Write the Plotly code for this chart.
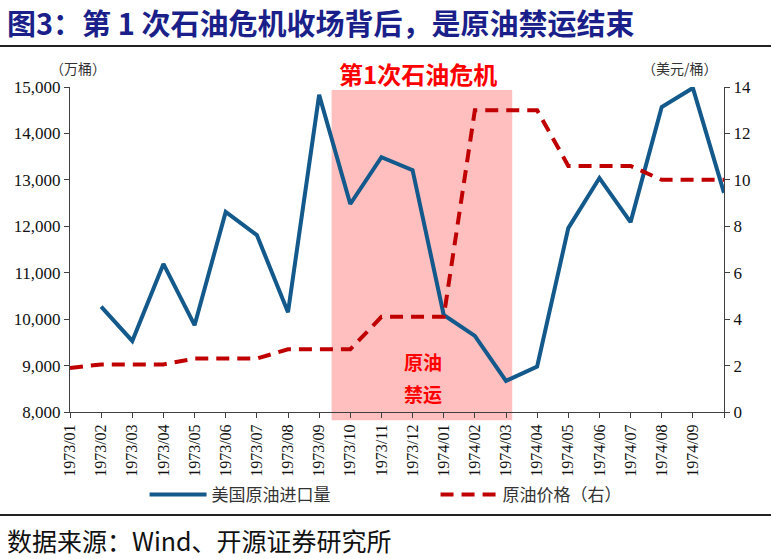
import plotly.graph_objects as go

# ---------------- data ----------------
months = ["1973/01", "1973/02", "1973/03", "1973/04", "1973/05", "1973/06", "1973/07",
          "1973/08", "1973/09", "1973/10", "1973/11", "1973/12", "1974/01", "1974/02",
          "1974/03", "1974/04", "1974/05", "1974/06", "1974/07", "1974/08", "1974/09",
          "1974/10"]
tick_labels = months[:-1] + [""]

us_imports = [None, 10270, 9530, 11190, 9870, 12310, 11810, 10150, 14830, 12480,
              13490, 13210, 10090, 9640, 8670, 8980, 11960, 13040, 12090, 14570,
              14980, 12720]          # 万桶
oil_price = [1.9, 2.05, 2.05, 2.05, 2.3, 2.3, 2.3, 2.7, 2.7, 2.7, 4.1, 4.1, 4.1,
             13.0, 13.0, 13.0, 10.6, 10.6, 10.6, 10.0, 10.0, 10.0]   # 美元/桶

shade_start, shade_end = 8.4, 14.2    # 禁运期 (category index)

xs = list(range(len(months)))

BLUE = "#13598B"
RED = "#C00000"
SERIF = "Liberation Serif, Times New Roman, serif"
CJK = "Noto Sans CJK SC, sans-serif"

fig = go.Figure()
fig.add_trace(go.Scatter(x=xs, y=us_imports, name="美国原油进口量", mode="lines",
                         line=dict(color=BLUE, width=4), connectgaps=False))
fig.add_trace(go.Scatter(x=xs, y=oil_price, name="原油价格（右）", mode="lines",
                         line=dict(color=RED, width=4, dash="13px,8px"), yaxis="y2"))

# shaded embargo period
fig.add_shape(type="rect", xref="x", yref="paper", x0=shade_start, x1=shade_end,
              y0=-0.025, y1=0.991, fillcolor="#FFBFBF", line=dict(width=0), layer="below")

# separator lines
for yy in (1.126, -0.317):
    fig.add_shape(type="line", xref="paper", yref="paper", x0=-0.107, x1=1.072,
                  y0=yy, y1=yy, line=dict(color="#222222", width=2))

ann = [
    dict(text="<b>图3：第 1 次石油危机收场背后，是原油禁运结束</b>", x=-0.099, y=1.2,
         xanchor="left", yanchor="middle", font=dict(family=CJK, size=29, color="#1B1F8A")),
    dict(text="（万桶）", x=0.012, y=1.058, xanchor="center", yanchor="middle",
         font=dict(family=CJK, size=14, color="#333333")),
    dict(text="（美元/桶）", x=0.933, y=1.058, xanchor="center", yanchor="middle",
         font=dict(family=CJK, size=14, color="#333333")),
    dict(text="<b>第1次石油危机</b>", x=0.532, y=1.040, xanchor="center", yanchor="middle",
         font=dict(family=CJK, size=24, color="#FF0000")),
    dict(text="<b>原油</b>", x=0.54, y=0.154, xanchor="center", yanchor="middle",
         font=dict(family=CJK, size=19, color="#FF0000")),
    dict(text="<b>禁运</b>", x=0.54, y=0.058, xanchor="center", yanchor="middle",
         font=dict(family=CJK, size=19, color="#FF0000")),
    dict(text="数据来源：Wind、开源证券研究所", x=-0.099, y=-0.394, xanchor="left",
         yanchor="middle", font=dict(family=CJK, size=25, color="#111111")),
]
for a in ann:
    a.update(xref="paper", yref="paper", showarrow=False)
fig.update_layout(annotations=ann)

fig.update_layout(
    width=771, height=559,
    margin=dict(l=70, r=47, t=87, b=147),
    plot_bgcolor="white", paper_bgcolor="white",
    showlegend=True,
    legend=dict(orientation="h", x=0.114, y=-0.255, xanchor="left", yanchor="middle",
                font=dict(family=CJK, size=17, color="#333333"), itemwidth=57,
                entrywidth=219, entrywidthmode="pixels", bgcolor="rgba(0,0,0,0)"),
    xaxis=dict(range=[0, 21], tickmode="array", tickvals=xs, ticktext=tick_labels,
               tickangle=-90, showgrid=False, zeroline=False, showline=True,
               linecolor="#404040", linewidth=1, ticks="outside", ticklen=5,
               tickcolor="#404040", tickfont=dict(family=SERIF, size=16, color="#111111")),
    yaxis=dict(range=[8000, 15000], dtick=1000, tickformat=",d", showgrid=False,
               zeroline=False, showline=True, linecolor="#404040", linewidth=1,
               ticks="outside", ticklen=5, tickcolor="#404040",
               tickfont=dict(family=SERIF, size=17, color="#111111")),
    yaxis2=dict(range=[0, 14], dtick=2, overlaying="y", side="right", showgrid=False,
                zeroline=False, showline=True, linecolor="#404040", linewidth=1,
                ticks="outside", ticklen=5, tickcolor="#404040",
                tickfont=dict(family=SERIF, size=17, color="#111111")),
)

fig.write_html("out.html")
